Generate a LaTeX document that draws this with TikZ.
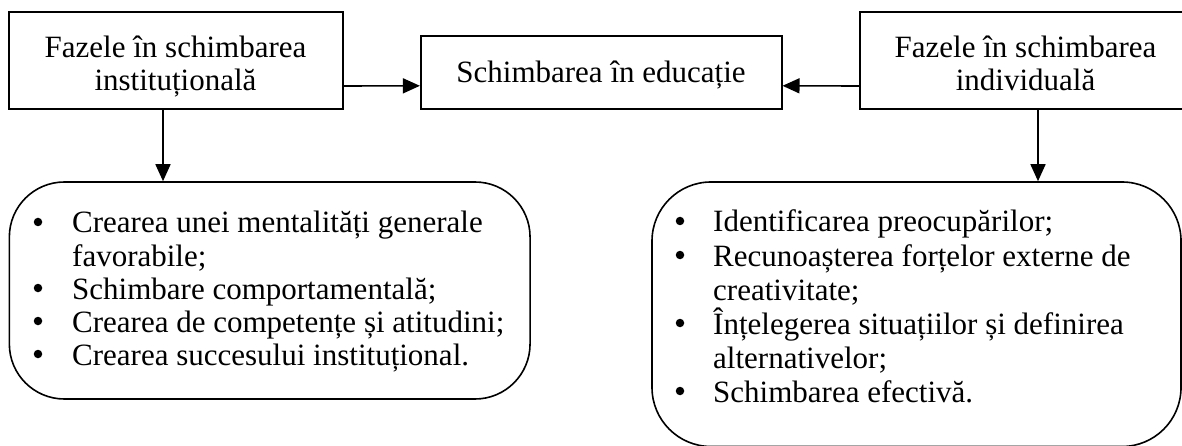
\documentclass[tikz,border=0pt]{standalone}
\usepackage{fontspec}
\setmainfont{Liberation Serif}
\usetikzlibrary{arrows.meta}
\begin{document}
\begin{tikzpicture}[x=1pt,y=-1pt,
  box/.style={draw, line width=1.6pt, rectangle, inner sep=0pt},
  txt/.style={inner sep=0pt, anchor=base, font=\fontsize{31}{33}\selectfont},
  itm/.style={inner sep=0pt, anchor=base west, font=\fontsize{31}{33}\selectfont},
  bul/.style={circle, fill, inner sep=0pt, minimum size=8.5pt},
  arr/.style={line width=1.6pt, -{Triangle[length=17pt,width=15pt]}}]
\useasboundingbox (0,0) rectangle (1182,446);

% top boxes
\node[box, minimum width=334pt, minimum height=97pt] (lb) at (176,60.7) {};
\node[box, minimum width=361pt, minimum height=73pt] (mb) at (601.2,72.5) {};
\node[box, minimum width=333pt, minimum height=97pt] (rb) at (1026.5,60.7) {};

\node[txt] (lbt1) at (175.5,58) {Fazele în schimbarea};
\node[txt] (lbt2) at (175.5,91) {instituțională};
\node[txt] (mbt) at (601,82.3) {Schimbarea în educație};
\node[txt] (rbt1) at (1025.5,58) {Fazele în schimbarea};
\node[txt] (rbt2) at (1025.5,91) {individuală};

% rounded boxes
\node[box, rounded corners=55pt, minimum width=520.7pt, minimum height=217pt] (ll) at (269.7,290.5) {};
\node[box, rounded corners=59pt, minimum width=529pt, minimum height=264.5pt] (rl) at (916.5,314.25) {};

% left list
\node[bul] (lb1) at (38,222) {};
\node[itm] (li1) at (72,233) {Crearea unei mentalități generale};
\node[itm] (li1b) at (72,266) {favorabile;};
\node[bul] (lb2) at (38,288) {};
\node[itm] (li2) at (72,299) {Schimbare comportamentală;};
\node[bul] (lb3) at (38,321) {};
\node[itm] (li3) at (72,332) {Crearea de competențe și atitudini;};
\node[bul] (lb4) at (38,354) {};
\node[itm] (li4) at (72,365) {Crearea succesului instituțional.};

% right list
\node[bul] (rb1) at (680,221) {};
\node[itm] (ri1) at (713,232) {Identificarea preocupărilor;};
\node[bul] (rb2) at (680,255) {};
\node[itm] (ri2) at (713,266) {Recunoașterea forțelor externe de};
\node[itm] (ri2b) at (713,300) {creativitate;};
\node[bul] (rb3) at (680,323) {};
\node[itm] (ri3) at (713,334) {Înțelegerea situațiilor și definirea};
\node[itm] (ri3b) at (713,368) {alternativelor;};
\node[bul] (rb4) at (680,391) {};
\node[itm] (ri4) at (713,402) {Schimbarea efectivă.};

% connectors
\draw[arr] ([yshift=24pt]lb.south east) -- ([yshift=24pt]mb.south west);
\draw[arr] ([yshift=24pt]rb.south west) -- ([yshift=24pt]mb.south east);
\path ([xshift=-13pt]lb.south) coordinate (la);
\draw[arr] (la) -- (la |- ll.north);
\path ([xshift=11.5pt]rb.south) coordinate (ra);
\draw[arr] (ra) -- (ra |- rl.north);
\end{tikzpicture}
\end{document}
